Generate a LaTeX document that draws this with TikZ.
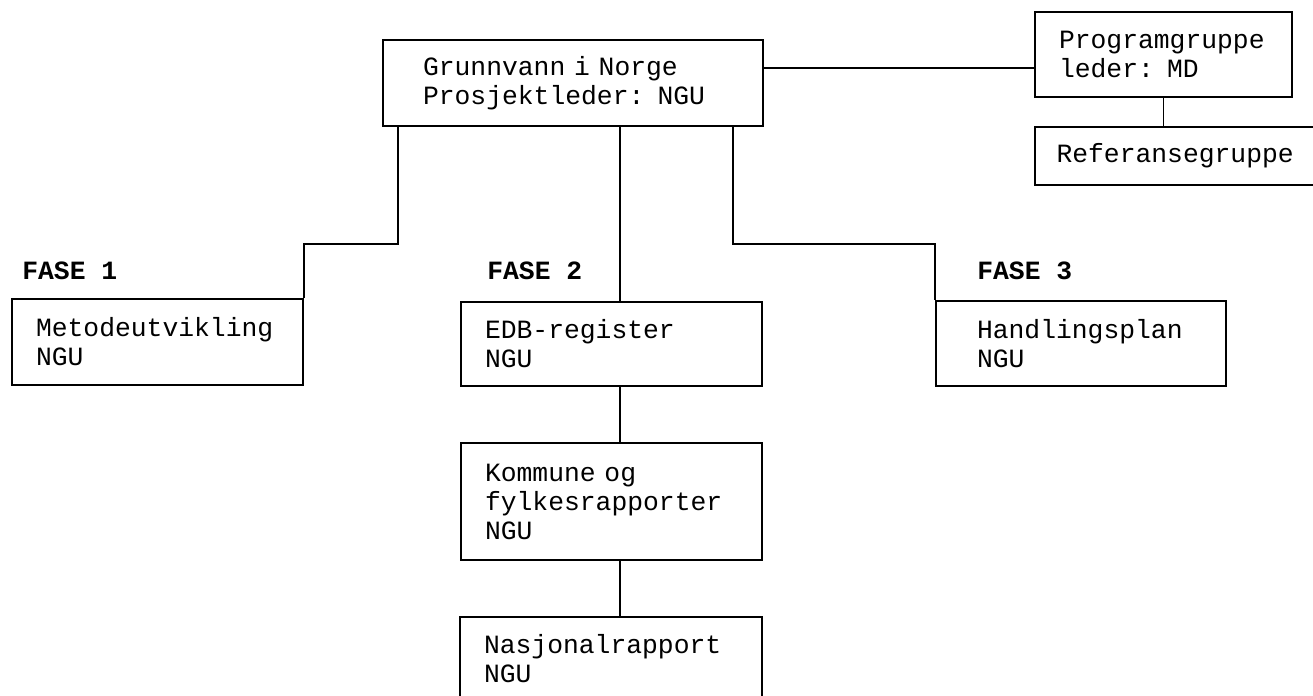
\documentclass[tikz,border=0pt]{standalone}
\usepackage{fontspec}
\setmainfont[WordSpace={1,0,0}]{Liberation Mono}
\usepackage{tikz}
\usetikzlibrary{calc, positioning}
\tikzstyle{boks} = [%
					draw,
					rectangle,
					align=left,
					inner ysep=0pt,
					line width = 1.1pt,
					font=\fontsize{15}{16.5}\selectfont]
\tikzstyle{fase} = [%
					anchor=base west,
					inner sep=0pt,
					font=\fontsize{15}{16.5}\selectfont\bfseries]
\tikzstyle{linje} = [%
					line width = 1.1pt]

\begin{document}
\begin{tikzpicture}[x=0.02cm, y=-0.02cm]
		
		\useasboundingbox (0,0) rectangle (1313,696);
		
		% Coordinates
		\coordinate (mid) at (620,0);
		
		% Nodes
		%% Top
		\node[boks, text width=6cm, inner xsep=0.8cm, minimum height=1.72cm] (top) at (573,83) {Grunnvann i Norge\\Prosjektleder: NGU};
		\node[boks, text width=4.18cm, inner xsep=0.48cm, minimum height=1.7cm] (prog) at (1163.5,54.5) {Programgruppe\\leder: MD};
		\node[boks, text width=4.8cm, inner xsep=0.43cm, minimum height=1.16cm] (ref) at (1176.5,156) {Referansegruppe};
		%% Phases
		\node[fase] (f1) at (22,279) {FASE 1};
		\node[fase] (f2) at (487,279) {FASE 2};
		\node[fase] (f3) at (977,279) {FASE 3};
		\node[boks, text width=4.86cm, inner xsep=0.48cm, minimum height=1.72cm] (met) at (157.5,342) {Metodeutvikling\\NGU};
		\node[boks, text width=5.06cm, inner xsep=0.48cm, minimum height=1.68cm] (edb) at (611.5,344) {EDB-register\\NGU};
		\node[boks, text width=4.16cm, inner xsep=0.82cm, minimum height=1.7cm] (hand) at (1081,343.5) {Handlingsplan\\NGU};
		%% Reports
		\node[boks, text width=5.06cm, inner xsep=0.48cm, minimum height=2.34cm] (kom) at (611.5,501.5) {Kommune og\\fylkesrapporter\\NGU};
		\node[boks, text width=5.08cm, inner xsep=0.48cm, minimum height=1.68cm] (nas) at (611,659) {Nasjonalrapport\\NGU};
		
		% Lines
		\coordinate (tp) at ($(top.east)+(0,-15)$);
		\draw[linje] (tp) -- (tp -| prog.west);
		\draw[linje] (prog.south) -- (prog.south |- ref.north);
		\draw[linje] ($(top.south west)+(16,0)$) -- ++(0,117) -| (met.north east);
		\draw[linje] ($(top.south east)+(-31,0)$) -- ++(0,117) -| (hand.north west);
		\draw[linje] (top.south -| mid) -- (edb.north -| mid);
		\draw[linje] (edb.south -| mid) -- (kom.north -| mid);
		\draw[linje] (kom.south -| mid) -- (nas.north -| mid);
	\end{tikzpicture}
\end{document}
